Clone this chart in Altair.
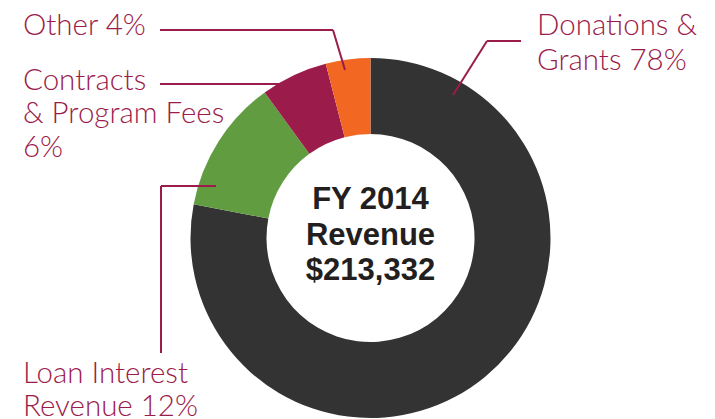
import altair as alt
import pandas as pd

# ---- data ----
categories = ["Donations & Grants", "Loan Interest Revenue", "Contracts & Program Fees", "Other"]
shares = [78, 12, 6, 4]
colors = ["#333333", "#629c41", "#9b1b4a", "#f26722"]
label_lines = [
    ["Donations &", "Grants 78%"],
    ["Loan Interest", "Revenue 12%"],
    ["Contracts", "& Program Fees", "6%"],
    ["Other 4%"],
]
center_lines = ["FY 2014", "Revenue", "$213,332"]

# ---- layout (page pixels) ----
OFF = 8
W, H = 699, 411
CX, CY = 370.5, 238
R_OUT, R_IN = 180, 104
LABEL_COLOR = "#9b1b4a"
label_anchor = [(537, 35, 35), (23, 383, 33), (23, 90, 33.3), (23, 35, 33)]
leaders = [
    [(521, 41), (487, 41), (453, 95)],
    [(161, 353), (161, 186), (216, 186)],
    [(160, 84), (282, 84)],
    [(160, 30), (333, 30), (345, 70)],
]
center_base = [209, 244.5, 280]

df = pd.DataFrame({"category": categories, "share": shares, "idx": range(len(categories))})

arc = alt.Chart(df).mark_arc(outerRadius=R_OUT, innerRadius=R_IN, stroke=None).encode(
    theta=alt.Theta("share:Q", stack=True),
    order=alt.Order("idx:Q"),
    color=alt.Color("category:N", scale=alt.Scale(domain=categories, range=colors), legend=None),
    x=alt.value(CX - OFF),
    y=alt.value(CY - OFF),
)

rows = []
for (x0, y0, dy), lines in zip(label_anchor, label_lines):
    for i, t in enumerate(lines):
        rows.append({"x": x0 - OFF, "y": y0 + i * dy - OFF, "t": t})
lab_df = pd.DataFrame(rows)
labels = alt.Chart(lab_df).mark_text(
    align="left", baseline="alphabetic", font="Lato", fontWeight=300, fontSize=29.5, color=LABEL_COLOR
).encode(
    x=alt.X("x:Q", scale=None), y=alt.Y("y:Q", scale=None), text="t:N"
)

seg_rows = []
for pts in leaders:
    for (a, b), (c, d) in zip(pts[:-1], pts[1:]):
        seg_rows.append({"x": a - OFF, "y": b - OFF, "x2": c - OFF, "y2": d - OFF})
seg_df = pd.DataFrame(seg_rows)
segs = alt.Chart(seg_df).mark_rule(color=LABEL_COLOR, strokeWidth=2).encode(
    x=alt.X("x:Q", scale=None), y=alt.Y("y:Q", scale=None),
    x2="x2:Q", y2="y2:Q",
)

cdf = pd.DataFrame({"t": center_lines, "x": [CX - OFF] * 3, "y": [b - OFF for b in center_base]})
center = alt.Chart(cdf).mark_text(
    align="center", baseline="alphabetic", font="Liberation Sans", fontWeight="bold", fontSize=31, color="#231f20"
).encode(
    x=alt.X("x:Q", scale=None), y=alt.Y("y:Q", scale=None), text="t:N"
)

chart = alt.layer(arc, segs, labels, center).properties(
    width=W, height=H, padding=0, autosize="none"
).configure_view(stroke=None)

chart.save("out.html", embed_options={"renderer": "svg", "actions": False})
